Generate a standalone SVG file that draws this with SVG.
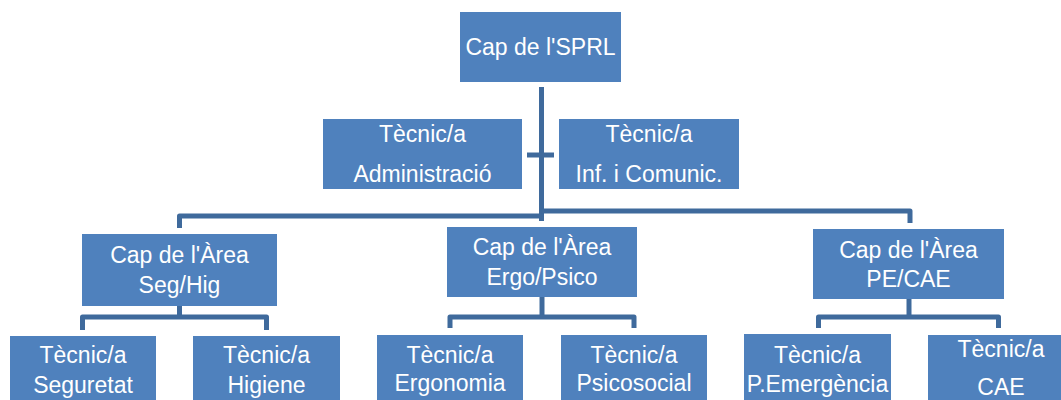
<svg xmlns="http://www.w3.org/2000/svg" width="1061" height="400" viewBox="0 0 1061 400">
<style>
.box{fill:#4F81BD}
.t{font-family:"Liberation Sans",Arial,sans-serif;font-size:23px;fill:#FFFFFF;text-anchor:middle}
.c{fill:none;stroke:#3F6A9C;stroke-width:5;stroke-linejoin:round}
</style>
<rect width="1061" height="400" fill="#FFFFFF"/>
<g id="connectors">
<path class="c" d="M541.5 87 V221"/>
<path class="c" d="M527 155 H554"/>
<path class="c" d="M541.5 216 H179.5 V228"/>
<path class="c" d="M541.5 211 H910 V223"/>
<path class="c" d="M179.5 306 V317"/>
<path class="c" d="M82.5 330 V317 H266.5 V330"/>
<path class="c" d="M542 297 V317"/>
<path class="c" d="M450 328 V317 H634 V328"/>
<path class="c" d="M909 299 V317"/>
<path class="c" d="M818.5 328 V317 H998.5 V328"/>
</g>
<g id="cap-sprl"><rect class="box" x="460" y="12" width="161" height="70"/><text class="t" x="540.5" y="55">Cap de l'SPRL</text></g>
<g id="tec-admin"><rect class="box" x="323" y="119" width="199" height="70"/><text class="t" x="422.5" y="141.5">Tècnic/a</text><text class="t" x="422.5" y="181.5">Administració</text></g>
<g id="tec-inf"><rect class="box" x="559" y="119" width="180" height="70"/><text class="t" x="649" y="141.5">Tècnic/a</text><text class="t" x="649" y="181.5">Inf. i Comunic.</text></g>
<g id="area-seghig"><rect class="box" x="82" y="234" width="195" height="72"/><text class="t" x="179.5" y="263">Cap de l'Àrea</text><text class="t" x="179.5" y="293">Seg/Hig</text></g>
<g id="area-ergopsico"><rect class="box" x="447" y="227" width="190" height="70"/><text class="t" x="542" y="255">Cap de l'Àrea</text><text class="t" x="542" y="285">Ergo/Psico</text></g>
<g id="area-pecae"><rect class="box" x="813" y="229" width="191" height="70"/><text class="t" x="908.5" y="258">Cap de l'Àrea</text><text class="t" x="908.5" y="287">PE/CAE</text></g>
<g id="tec-seguretat"><rect class="box" x="10" y="336" width="146" height="70"/><text class="t" x="83" y="363">Tècnic/a</text><text class="t" x="83" y="393">Seguretat</text></g>
<g id="tec-higiene"><rect class="box" x="193" y="336" width="147" height="70"/><text class="t" x="266.5" y="363">Tècnic/a</text><text class="t" x="266.5" y="393">Higiene</text></g>
<g id="tec-ergonomia"><rect class="box" x="377" y="335" width="146" height="70"/><text class="t" x="450" y="363">Tècnic/a</text><text class="t" x="450" y="391">Ergonomia</text></g>
<g id="tec-psicosocial"><rect class="box" x="561" y="335" width="146" height="70"/><text class="t" x="634" y="363">Tècnic/a</text><text class="t" x="634" y="391">Psicosocial</text></g>
<g id="tec-emergencia"><rect class="box" x="744" y="334" width="147" height="70"/><text class="t" x="817.5" y="363">Tècnic/a</text><text class="t" x="817.5" y="392">P.Emergència</text></g>
<g id="tec-cae"><rect class="box" x="928" y="335" width="146" height="70"/><text class="t" x="1001" y="357">Tècnic/a</text><text class="t" x="1001" y="395">CAE</text></g>
</svg>
